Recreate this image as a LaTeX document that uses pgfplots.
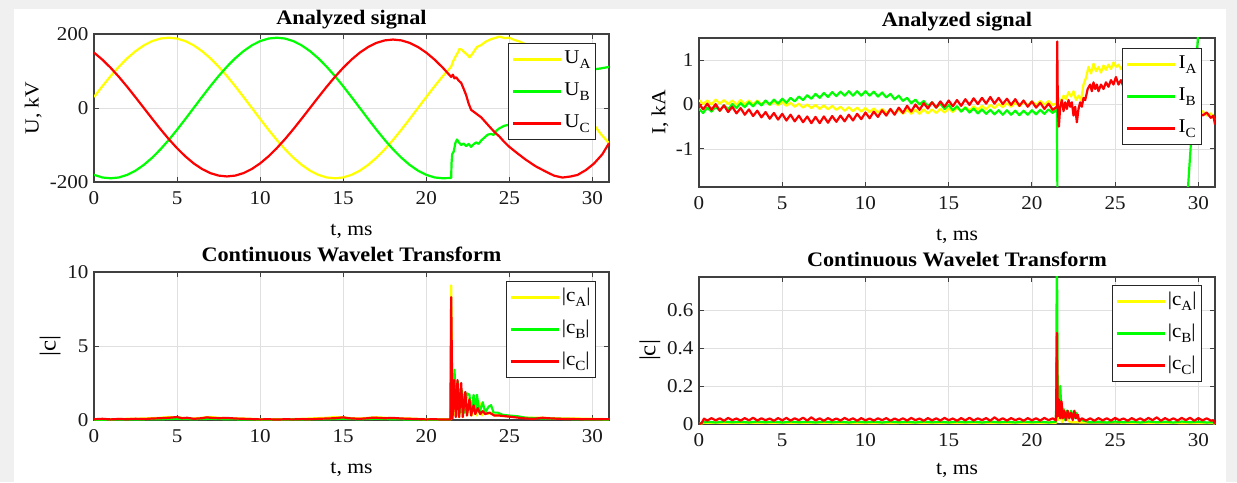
\documentclass[border=0pt]{standalone}
\usepackage{pgfplots}
\pgfplotsset{compat=1.18}
\usepackage{fontspec}
\setmainfont{Liberation Serif}[FakeStretch=1.08]
\definecolor{bgray}{RGB}{240,240,240}
\definecolor{axgray}{RGB}{64,64,64}
\definecolor{gridgray}{RGB}{224,224,224}
\definecolor{myyellow}{RGB}{255,255,0}
\definecolor{mygreen}{RGB}{0,255,0}
\definecolor{myred}{RGB}{255,0,0}
\newcommand{\tickfont}{\fontsize{19.5}{22}\selectfont}
\newcommand{\titlefont}{\bfseries\fontsize{20.6}{23}\selectfont}
\newcommand{\labfont}{\fontsize{20}{22}\selectfont}
\newcommand{\legfont}{\fontsize{19.5}{22}\selectfont}
\newcommand{\sub}[1]{\raisebox{-5pt}{\fontsize{14}{15}\selectfont #1}}
\pgfplotsset{
  mstyle/.style={
    scale only axis,
    axis background/.style={fill=white},
    axis line style={draw=axgray, line width=1.1pt},
    tick style={draw=axgray, line width=0.9pt},
    major tick length=5pt,
    tick align=inside,
    xmajorgrids, ymajorgrids,
    grid style={draw=gridgray, line width=0.7pt},
    xmin=0, xmax=31,
    xtick={0,5,10,15,20,25,30},
    xticklabels={0,5,10,15,20,25,30},
    ticklabel style={font=\tickfont, text=black!90},
    xticklabel style={yshift=-6pt},
    yticklabel style={xshift=-2pt},
    title style={font=\titlefont, anchor=center, yshift=-6pt},
    xlabel style={font=\labfont, anchor=center, yshift=-3pt},
    ylabel style={font=\labfont, anchor=center, rotate=0},
    legend cell align=left,
    legend image code/.code={\draw[##1, line width=2.6pt] (0pt,0pt) -- (48pt,0pt);},
    legend style={anchor=north east, draw=black!85, line width=1pt, fill=white,
      font=\legfont, inner xsep=3pt, inner ysep=4pt, row sep=8pt,
      nodes={inner sep=2pt, text height=14pt, text depth=6pt}},
    every axis plot/.append style={line width=2.2pt, line join=round},
  }
}
\begin{document}
\begin{tikzpicture}
\useasboundingbox (0,0) rectangle (1237pt,482pt);
\fill[bgray] (0,0) rectangle (1237pt,482pt);
\fill[white] (14pt,0) rectangle (1226pt,473pt);

% ---------------- Top left -----------------
\begin{axis}[mstyle, at={(94pt,300pt)}, anchor=south west, width=515pt, height=148pt,
  ymin=-200, ymax=200, ytick={-200,0,200}, yticklabels={-200,0,200},
  title={Analyzed signal}, title style={at={(axis description cs:0.5,1.095)}},
  xlabel={t, ms}, xlabel style={at={(axis description cs:0.5,-0.311)}},
  ylabel={U, kV}, ylabel style={at={(axis description cs:-0.118,0.5)}},
  legend style={at={(axis description cs:0.9748,0.939)}}]
\addplot[myyellow] coordinates {(0,29.7)(0.5,58.7)(1,86.3)(1.5,111.7)(2,134.4)(2.5,153.7)(3,169.3)(3.5,180.7)(4,187.7)(4.5,190)(5,187.7)(5.5,180.7)(6,169.3)(6.5,153.7)(7,134.4)(7.5,111.7)(8,86.3)(8.5,58.7)(9,29.7)(9.5,0)(10,-29.7)(10.5,-58.7)(11,-86.3)(11.5,-111.7)(12,-134.4)(12.5,-153.7)(13,-169.3)(13.5,-180.7)(14,-187.7)(14.5,-190)(15,-187.7)(15.5,-180.7)(16,-169.3)(16.5,-153.7)(17,-134.4)(17.5,-111.7)(18,-86.3)(18.5,-58.7)(19,-29.7)(19.5,0)(20,29.7)(20.5,58.7)(21,86.3)(21.5,111.7)
(21.6,125)(21.75,138)(21.9,150)(22,160)(22.15,157)(22.3,150)(22.45,145)(22.6,137)(22.75,145)(22.9,155)(23.05,165)(23.3,170)(23.6,180)(23.9,186)(24.2,190)(24.4,193)(24.7,189)(25,190)(25.3,184)(25.6,180)(26,172)(26.5,158)(27,140)(27.5,115)(28,86)(28.5,55)(29,25)(29.5,-8)(30,-40)(30.5,-70)(31,-95)};
\addplot[mygreen] coordinates {(0,-180.7)(0.5,-187.7)(1,-190)(1.5,-187.7)(2,-180.7)(2.5,-169.3)(3,-153.7)(3.5,-134.4)(4,-111.7)(4.5,-86.3)(5,-58.7)(5.5,-29.7)(6,0)(6.5,29.7)(7,58.7)(7.5,86.3)(8,111.7)(8.5,134.4)(9,153.7)(9.5,169.3)(10,180.7)(10.5,187.7)(11,190)(11.5,187.7)(12,180.7)(12.5,169.3)(13,153.7)(13.5,134.4)(14,111.7)(14.5,86.3)(15,58.7)(15.5,29.7)(16,0)(16.5,-29.7)(17,-58.7)(17.5,-86.3)(18,-111.7)(18.5,-134.4)(19,-153.7)(19.5,-169.3)(20,-180.7)(20.5,-187.7)(21,-190)(21.5,-189)
(21.52,-150)(21.56,-125)(21.65,-118)(21.75,-95)(21.85,-85)(21.95,-92)(22.1,-100)(22.25,-96)(22.4,-103)(22.55,-97)(22.7,-105)(22.85,-98)(23.0,-93)(23.15,-97)(23.3,-88)(23.5,-80)(23.7,-72)(23.9,-70)(24.05,-73)(24.2,-62)(24.4,-55)(24.7,-48)(25,-45)(25.5,-35)(26,-20)(27,10)(28,45)(29,78)(29.6,98)(30,104)(30.5,107)(31,111)};
\addplot[myred] coordinates {(0,149.7)(0.5,130.8)(1,108.7)(1.5,84.0)(2,57.2)(2.5,28.9)(3,0)(3.5,-28.9)(4,-57.2)(4.5,-84.0)(5,-108.7)(5.5,-130.8)(6,-149.7)(6.5,-164.8)(7,-176.0)(7.5,-182.7)(8,-185)(8.5,-182.7)(9,-176.0)(9.5,-164.8)(10,-149.7)(10.5,-130.8)(11,-108.7)(11.5,-84.0)(12,-57.2)(12.5,-28.9)(13,0)(13.5,28.9)(14,57.2)(14.5,84.0)(15,108.7)(15.5,130.8)(16,149.7)(16.5,164.8)(17,176.0)(17.5,182.7)(18,185)(18.5,182.7)(19,176.0)(19.5,164.8)(20,149.7)(20.5,130.8)(21,108.7)(21.5,84.0)
(21.6,90)(21.7,80)(21.8,83)(21.95,74)(22.1,68)(22.25,52)(22.4,35)(22.55,12)(22.7,-5)(22.85,-10)(23.0,-15)(23.15,-20)(23.3,-25)(23.5,-35)(23.7,-45)(23.9,-55)(24.15,-67)(24.4,-77)(24.7,-92)(25,-105)(25.5,-123)(26,-140)(26.6,-158)(27.2,-172)(27.7,-183)(28.2,-188)(28.7,-185)(29.1,-181)(29.6,-168)(30.1,-150)(30.6,-125)(31,-95)};
\legend{U\sub{A},U\sub{B},U\sub{C}}
\end{axis}

% ---------------- Top right -----------------
\begin{axis}[mstyle, at={(699pt,295pt)}, anchor=south west, width=516pt, height=149pt,
  ymin=-1.86, ymax=1.5, ytick={-1,0,1}, yticklabels={-1,0,1},
  title={Analyzed signal}, title style={at={(axis description cs:0.5,1.107)}},
  xlabel={t, ms}, xlabel style={at={(axis description cs:0.5,-0.309)}},
  ylabel={I, kA}, ylabel style={at={(axis description cs:-0.0756,0.5)}},
  legend style={at={(axis description cs:0.9748,0.933)}}]
\addplot[myyellow] coordinates {(0,0.10)(0.25,0.01)(0.5,0.09)(0.75,0.0)(1,0.11)(1.25,0.02)(1.5,0.10)(1.75,0.01)(2,0.09)(2.25,0.0)(2.5,0.10)(2.75,0.01)(3,0.09)(3.25,0.0)(3.5,0.09)(3.75,0.0)(4,0.08)(4.25,-0.01)(4.5,0.07)(4.75,-0.02)(5,0.06)(5.25,-0.03)(5.5,0.04)(5.75,-0.05)(6,0.02)(6.25,-0.07)(6.5,0.0)(6.75,-0.08)(7,-0.01)(7.25,-0.10)(7.5,-0.02)(7.75,-0.11)(8,-0.03)(8.25,-0.12)(8.5,-0.05)(8.75,-0.14)(9,-0.06)(9.25,-0.15)(9.5,-0.07)(9.75,-0.16)(10,-0.08)(10.25,-0.17)(10.5,-0.09)(10.75,-0.18)(11,-0.10)(11.25,-0.19)(11.5,-0.11)(11.75,-0.20)(12,-0.12)(12.25,-0.21)(12.5,-0.12)(12.75,-0.21)(13,-0.12)(13.25,-0.21)(13.5,-0.11)(13.75,-0.20)(14,-0.11)(14.25,-0.19)(14.5,-0.10)(14.75,-0.18)(15,-0.09)(15.25,-0.17)(15.5,-0.07)(15.75,-0.15)(16,-0.06)(16.25,-0.14)(16.5,-0.04)(16.75,-0.12)(17,-0.03)(17.25,-0.11)(17.5,-0.01)(17.75,-0.08)(18,0.01)(18.25,-0.06)(18.5,0.03)(18.75,-0.05)(19,0.04)(19.25,-0.04)(19.5,0.06)(19.75,-0.02)(20,0.07)(20.25,-0.01)(20.5,0.08)(20.75,0.0)(21,0.08)(21.25,-0.01)(21.5,0.03)
(21.6,0.15)(21.75,0.05)(21.9,0.2)(22.05,0.12)(22.2,0.28)(22.35,0.18)(22.5,0.3)(22.65,0.1)(22.8,0.2)(22.95,0.1)(23.1,0.45)(23.25,0.6)(23.4,0.85)(23.55,0.7)(23.7,0.92)(23.85,0.75)(24.0,0.85)(24.15,0.72)(24.3,0.88)(24.45,0.78)(24.6,0.9)(24.75,0.8)(24.9,0.95)(25.05,0.85)(25.2,0.9)(25.35,0.8)(25.5,0.85)(26,0.8)(27,0.6)(28,0.3)(29,0.0)(29.5,-0.1)(30,-0.2)(30.25,-0.15)(30.5,-0.25)(30.75,-0.2)(31,-0.35)};
\addplot[mygreen] coordinates {(0,-0.10)(0.25,-0.19)(0.5,-0.07)(0.75,-0.16)(1,-0.05)(1.25,-0.14)(1.5,-0.02)(1.75,-0.11)(2,0.01)(2.25,-0.08)(2.5,0.03)(2.75,-0.06)(3,0.05)(3.25,-0.04)(3.5,0.07)(3.75,-0.02)(4,0.09)(4.25,0.0)(4.5,0.11)(4.75,0.02)(5,0.13)(5.25,0.04)(5.5,0.15)(5.75,0.07)(6,0.18)(6.25,0.10)(6.5,0.21)(6.75,0.13)(7,0.24)(7.25,0.15)(7.5,0.26)(7.75,0.17)(8,0.28)(8.25,0.19)(8.5,0.29)(8.75,0.20)(9,0.30)(9.25,0.20)(9.5,0.30)(9.75,0.20)(10,0.30)(10.25,0.20)(10.5,0.29)(10.75,0.18)(11,0.27)(11.25,0.16)(11.5,0.24)(11.75,0.12)(12,0.20)(12.25,0.08)(12.5,0.15)(12.75,0.03)(13,0.11)(13.25,0.0)(13.5,0.08)(13.75,-0.04)(14,0.05)(14.25,-0.07)(14.5,0.02)(14.75,-0.10)(15,-0.01)(15.25,-0.13)(15.5,-0.04)(15.75,-0.16)(16,-0.07)(16.25,-0.18)(16.5,-0.09)(16.75,-0.20)(17,-0.11)(17.25,-0.21)(17.5,-0.12)(17.75,-0.22)(18,-0.13)(18.25,-0.23)(18.5,-0.13)(18.75,-0.23)(19,-0.14)(19.25,-0.24)(19.5,-0.14)(19.75,-0.23)(20,-0.13)(20.25,-0.22)(20.5,-0.12)(20.75,-0.21)(21,-0.11)(21.25,-0.19)(21.5,-0.10)
(21.55,-3.0)(25,-3.0)(29.2,-2.88)(30.2,2.81)(31,3.0)};
\addplot[myred] coordinates {(0,0.02)(0.25,-0.11)(0.5,0.02)(0.75,-0.12)(1,0.01)(1.25,-0.14)(1.5,-0.02)(1.75,-0.17)(2,-0.05)(2.25,-0.20)(2.5,-0.08)(2.75,-0.23)(3,-0.11)(3.25,-0.26)(3.5,-0.14)(3.75,-0.29)(4,-0.17)(4.25,-0.32)(4.5,-0.19)(4.75,-0.34)(5,-0.21)(5.25,-0.36)(5.5,-0.23)(5.75,-0.38)(6,-0.25)(6.25,-0.40)(6.5,-0.27)(6.75,-0.42)(7,-0.28)(7.25,-0.42)(7.5,-0.27)(7.75,-0.41)(8,-0.26)(8.25,-0.39)(8.5,-0.25)(8.75,-0.38)(9,-0.23)(9.25,-0.36)(9.5,-0.21)(9.75,-0.33)(10,-0.18)(10.25,-0.31)(10.5,-0.16)(10.75,-0.28)(11,-0.13)(11.25,-0.25)(11.5,-0.10)(11.75,-0.23)(12,-0.07)(12.25,-0.19)(12.5,-0.03)(12.75,-0.16)(13,0.0)(13.25,-0.12)(13.5,0.03)(13.75,-0.09)(14,0.05)(14.25,-0.07)(14.5,0.07)(14.75,-0.05)(15,0.09)(15.25,-0.04)(15.5,0.10)(15.75,-0.03)(16,0.12)(16.25,-0.01)(16.5,0.14)(16.75,0.01)(17,0.15)(17.25,0.02)(17.5,0.17)(17.75,0.02)(18,0.15)(18.25,0.01)(18.5,0.13)(18.75,-0.01)(19,0.12)(19.25,-0.03)(19.5,0.09)(19.75,-0.05)(20,0.07)(20.25,-0.07)(20.5,0.04)(20.75,-0.10)(21,0.02)(21.25,-0.12)(21.5,-0.05)
(21.52,1.42)(21.56,-0.1)(21.62,-0.5)(21.7,-0.05)(21.8,0.1)(21.9,-0.15)(22.0,0.05)(22.1,-0.1)(22.2,0.1)(22.3,-0.05)(22.4,0.05)(22.5,-0.25)(22.6,-0.05)(22.7,-0.4)(22.8,-0.1)(22.9,0.05)(23.0,-0.05)(23.1,0.15)(23.2,0.1)(23.35,0.35)(23.5,0.45)(23.6,0.3)(23.7,0.5)(23.8,0.35)(23.9,0.45)(24.0,0.3)(24.15,0.45)(24.3,0.35)(24.45,0.5)(24.6,0.4)(24.75,0.55)(24.9,0.45)(25.05,0.62)(25.2,0.45)(25.35,0.55)(25.5,0.4)(26,0.35)(27,0.25)(28,0.1)(29,0.0)(29.5,-0.05)(30,-0.15)(30.25,-0.25)(30.5,-0.18)(30.75,-0.3)(30.9,-0.25)(31,-0.45)};
\legend{I\sub{A},I\sub{B},I\sub{C}}
\end{axis}

% ---------------- Bottom left -----------------
\begin{axis}[mstyle, at={(94pt,62pt)}, anchor=south west, width=515pt, height=148pt,
  ymin=0, ymax=10, ytick={0,5,10}, yticklabels={0,5,10},
  title={Continuous Wavelet Transform}, title style={at={(axis description cs:0.5,1.122)}},
  xlabel={t, ms}, xlabel style={at={(axis description cs:0.5,-0.311)}},
  ylabel={|c|}, ylabel style={at={(axis description cs:-0.0854,0.5)}, font=\fontsize{23}{25}\selectfont},
  legend style={at={(axis description cs:0.9748,0.939)}}]
\addplot[myyellow] coordinates {(0,0.05)(1,0.05)(2,0.08)(3,0.1)(4,0.15)(4.5,0.2)(5,0.18)(5.5,0.12)(6,0.1)(6.5,0.15)(7,0.2)(7.5,0.15)(8,0.12)(9,0.1)(10,0.05)(11,0.05)(12,0.06)(13,0.1)(14,0.15)(14.5,0.2)(15,0.18)(15.5,0.12)(16,0.1)(16.5,0.15)(17,0.18)(17.5,0.15)(18,0.12)(19,0.1)(20,0.05)(21,0.05)(21.45,0.03)(21.5,9.1)(21.58,0.2)(21.65,2.9)(21.75,0.3)(21.85,2.0)(21.95,0.2)(22.05,1.8)(22.15,0.2)(22.3,1.5)(22.45,0.3)(22.6,1.5)(22.75,0.3)(22.9,1.1)(23.05,0.3)(23.2,1.2)(23.35,0.3)(23.5,0.7)(23.7,0.4)(23.9,0.5)(24.1,0.3)(24.4,0.35)(24.8,0.25)(25.2,0.25)(25.6,0.2)(26,0.15)(27,0.15)(28,0.1)(29,0.1)(30,0.08)(31,0.05)};
\addplot[mygreen] coordinates {(0,0.02)(2,0.03)(4,0.05)(5,0.08)(6,0.05)(7,0.08)(8,0.05)(10,0.02)(12,0.03)(14,0.05)(15,0.08)(16,0.05)(17,0.08)(18,0.05)(20,0.02)(21.45,0.02)(21.5,1.0)(21.58,0.3)(21.7,3.4)(21.8,0.4)(21.9,2.6)(22.0,0.4)(22.15,2.0)(22.3,0.5)(22.45,1.8)(22.6,1.7)(22.7,0.5)(22.85,1.7)(22.95,0.5)(23.05,1.7)(23.2,0.5)(23.4,1.2)(23.55,0.5)(23.75,0.9)(23.9,1.0)(24.05,0.5)(24.3,0.5)(24.6,0.35)(25,0.3)(25.5,0.25)(26,0.15)(27,0.1)(28,0.08)(29,0.05)(30,0.03)(31,0.02)};
\addplot[myred] coordinates {(0,0.05)(0.5,0.08)(1,0.04)(1.5,0.07)(2,0.05)(2.5,0.08)(3,0.06)(3.5,0.1)(4,0.12)(4.5,0.15)(5,0.2)(5.3,0.12)(5.6,0.15)(6,0.08)(6.5,0.12)(6.8,0.18)(7,0.15)(7.5,0.12)(8,0.14)(8.5,0.1)(9,0.08)(9.5,0.06)(10,0.04)(10.5,0.05)(11,0.03)(11.5,0.05)(12,0.04)(12.5,0.06)(13,0.05)(13.5,0.08)(14,0.1)(14.5,0.12)(15,0.18)(15.3,0.12)(15.6,0.1)(16,0.08)(16.5,0.12)(16.8,0.16)(17,0.15)(17.5,0.12)(18,0.14)(18.5,0.1)(19,0.08)(19.5,0.06)(20,0.04)(20.5,0.05)(21,0.03)(21.45,0.03)(21.5,8.3)(21.58,0.1)(21.68,2.7)(21.78,0.2)(21.88,2.7)(21.98,0.2)(22.1,2.5)(22.2,0.2)(22.35,1.9)(22.45,0.3)(22.6,1.4)(22.7,0.3)(22.85,1.0)(22.95,0.4)(23.1,0.8)(23.25,0.4)(23.4,0.6)(23.55,0.4)(23.8,0.5)(24.1,0.3)(24.4,0.3)(24.8,0.25)(25.2,0.2)(25.6,0.15)(26,0.1)(26.5,0.08)(27,0.15)(27.3,0.12)(28,0.08)(29,0.06)(30,0.05)(31,0.05)};
\legend{|c\sub{A}|,|c\sub{B}|,|c\sub{C}|}
\end{axis}

% ---------------- Bottom right -----------------
\begin{axis}[mstyle, at={(699pt,58pt)}, anchor=south west, width=516pt, height=147pt,
  ymin=0, ymax=0.775, ytick={0,0.2,0.4,0.6}, yticklabels={0,0.2,0.4,0.6},
  title={Continuous Wavelet Transform}, title style={at={(axis description cs:0.5,1.122)}},
  xlabel={t, ms}, xlabel style={at={(axis description cs:0.5,-0.293)}},
  ylabel={|c|}, ylabel style={at={(axis description cs:-0.095,0.5)}, font=\fontsize{23}{25}\selectfont},
  legend style={at={(axis description cs:0.9748,0.946)}}]
\addplot[myyellow] coordinates {(0,0)(0.3,0.006)(5,0.007)(10,0.005)(15,0.007)(21.45,0.006)(21.5,0.25)(21.56,0.02)(21.7,0.08)(21.8,0.01)(22,0.03)(22.3,0.01)(23,0.008)(30.9,0.005)(31,0)};
\addplot[mygreen] coordinates {(0,0)(0.2,0.008)(0.5,0.012)(1,0.008)(1.5,0.013)(2,0.009)(2.5,0.012)(3,0.008)(3.5,0.013)(4,0.009)(4.5,0.012)(5,0.008)(5.5,0.013)(6,0.009)(6.5,0.012)(7,0.008)(7.5,0.013)(8,0.009)(8.5,0.012)(9,0.008)(9.5,0.013)(10,0.009)(10.5,0.012)(11,0.008)(11.5,0.013)(12,0.009)(12.5,0.012)(13,0.008)(13.5,0.013)(14,0.009)(14.5,0.012)(15,0.008)(15.5,0.013)(16,0.009)(16.5,0.012)(17,0.008)(17.5,0.013)(18,0.009)(18.5,0.012)(19,0.008)(19.5,0.013)(20,0.009)(20.5,0.012)(21,0.008)(21.45,0.012)(21.5,0.95)(21.56,0.05)(21.7,0.2)(21.8,0.03)(21.9,0.08)(22,0.02)(22.1,0.07)(22.2,0.03)(22.35,0.07)(22.5,0.03)(22.65,0.06)(22.8,0.02)(23,0.02)(23.5,0.009)(24,0.012)(24.5,0.008)(25,0.013)(25.5,0.009)(26,0.012)(26.5,0.008)(27,0.013)(27.5,0.009)(28,0.012)(28.5,0.008)(29,0.013)(29.5,0.009)(30,0.012)(30.5,0.008)(30.9,0.01)(31,0)};
\addplot[myred] coordinates {(0,0)(0.15,0.004)(0.3,0.028)(0.5,0.018)(0.75,0.031)(1,0.019)(1.25,0.030)(1.5,0.017)(1.75,0.032)(2,0.020)(2.25,0.029)(2.5,0.018)(2.75,0.031)(3,0.019)(3.25,0.033)(3.5,0.018)(3.75,0.030)(4,0.020)(4.25,0.029)(4.5,0.017)(4.75,0.031)(5,0.019)(5.25,0.032)(5.5,0.018)(5.75,0.030)(6,0.020)(6.25,0.033)(6.5,0.018)(6.75,0.035)(7,0.019)(7.25,0.030)(7.5,0.017)(7.75,0.031)(8,0.019)(8.25,0.029)(8.5,0.018)(8.75,0.032)(9,0.020)(9.25,0.030)(9.5,0.017)(9.75,0.031)(10,0.019)(10.25,0.029)(10.5,0.018)(10.75,0.030)(11,0.020)(11.25,0.031)(11.5,0.017)(11.75,0.029)(12,0.019)(12.25,0.030)(12.5,0.018)(12.75,0.032)(13,0.020)(13.25,0.029)(13.5,0.017)(13.75,0.031)(14,0.019)(14.25,0.030)(14.5,0.018)(14.75,0.032)(15,0.020)(15.25,0.029)(15.5,0.017)(15.75,0.031)(16,0.019)(16.25,0.033)(16.5,0.018)(16.75,0.030)(17,0.020)(17.25,0.031)(17.5,0.017)(17.75,0.035)(18,0.019)(18.25,0.030)(18.5,0.018)(18.75,0.031)(19,0.020)(19.25,0.029)(19.5,0.017)(19.75,0.031)(20,0.019)(20.25,0.030)(20.5,0.018)(20.75,0.032)(21,0.020)(21.25,0.030)(21.45,0.018)(21.5,0.48)(21.55,0.04)(21.62,0.13)(21.7,0.03)(21.78,0.12)(21.86,0.03)(21.95,0.07)(22.05,0.02)(22.15,0.07)(22.25,0.03)(22.35,0.06)(22.45,0.02)(22.55,0.07)(22.65,0.03)(22.75,0.05)(22.85,0.015)(23,0.03)(23.25,0.018)(23.5,0.030)(23.75,0.017)(24,0.031)(24.25,0.019)(24.5,0.030)(24.75,0.018)(25,0.032)(25.25,0.020)(25.5,0.029)(25.75,0.017)(26,0.031)(26.25,0.019)(26.5,0.030)(26.75,0.018)(27,0.032)(27.25,0.020)(27.5,0.035)(27.75,0.017)(28,0.031)(28.25,0.019)(28.5,0.030)(28.75,0.018)(29,0.032)(29.25,0.020)(29.5,0.033)(29.75,0.017)(30,0.031)(30.25,0.019)(30.5,0.030)(30.75,0.018)(30.9,0.02)(31,0.0)};
\legend{|c\sub{A}|,|c\sub{B}|,|c\sub{C}|}
\end{axis}
\end{tikzpicture}
\end{document}
